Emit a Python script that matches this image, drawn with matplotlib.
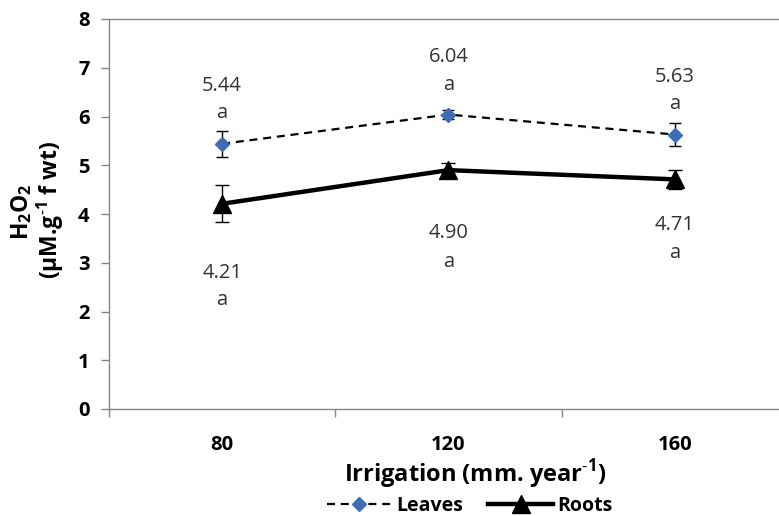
import matplotlib
matplotlib.use("Agg")
import matplotlib.pyplot as plt
from matplotlib.ticker import FixedLocator, NullFormatter
from matplotlib.lines import Line2D

plt.rcParams['font.family'] = ['Open Sans', 'DejaVu Sans']
plt.rcParams['mathtext.fontset'] = 'custom'
plt.rcParams['mathtext.rm'] = 'Open Sans'
plt.rcParams['mathtext.bf'] = 'Open Sans:bold'

categories = ["80", "120", "160"]
leaves = [5.44, 6.04, 5.63]
leaves_err = [0.27, 0.10, 0.24]
roots = [4.21, 4.90, 4.71]
roots_err = [0.38, 0.15, 0.19]
leaves_letters = ["a", "a", "a"]
roots_letters = ["a", "a", "a"]

fig = plt.figure(figsize=(7.79, 5.16), dpi=100)
ax = fig.add_axes([109/779, 107/516, 679/779, 390/516])

x = list(range(len(categories)))
grey = "#868686"
blue = "#3E6DB5"
dash = (0, (3.6, 2.6))

ax.errorbar(x, roots, yerr=roots_err, color="black", lw=3.2, marker="^", ms=13,
            capsize=5, elinewidth=1, ecolor="black", capthick=1, zorder=3)
ax.errorbar(x, leaves, yerr=leaves_err, color="black", lw=1.6, ls=dash, marker="D",
            ms=7.5, mfc=blue, mec=blue, capsize=4, elinewidth=1, ecolor="black",
            capthick=1, zorder=3)

# data labels (offsets in pixels from the point: value line, letter line)
lab_off_leaves = [(-58, -31), (-58, -30), (-58, -31)]
lab_off_roots = [(69, 96), (63, 92), (46, 74)]
tc = "#333333"
fs = 14.5
for i in x:
    o1, o2 = lab_off_leaves[i]
    ax.annotate(f"{leaves[i]:.2f}", (i, leaves[i]), xytext=(0, -o1*0.72), textcoords="offset points",
                ha="center", va="center", fontsize=fs, color=tc)
    ax.annotate(leaves_letters[i], (i, leaves[i]), xytext=(0, -o2*0.72), textcoords="offset points",
                ha="center", va="center", fontsize=fs, color=tc)
    o1, o2 = lab_off_roots[i]
    ax.annotate(f"{roots[i]:.2f}", (i, roots[i]), xytext=(0, -o1*0.72), textcoords="offset points",
                ha="center", va="center", fontsize=fs, color=tc)
    ax.annotate(roots_letters[i], (i, roots[i]), xytext=(0, -o2*0.72), textcoords="offset points",
                ha="center", va="center", fontsize=fs, color=tc)

ax.set_xlim(-0.5, 2.5)
ax.set_ylim(0, 8)
ax.set_yticks(range(0, 9))
ax.set_xticks(x)
ax.set_xticklabels(categories)
ax.xaxis.set_minor_locator(FixedLocator([-0.5, 0.5, 1.5]))
ax.xaxis.set_minor_formatter(NullFormatter())
ax.tick_params(axis="x", which="major", length=0, pad=19, labelsize=14.5)
ax.tick_params(axis="x", which="minor", length=6, color=grey, width=1)
ax.tick_params(axis="y", length=6, color=grey, width=1, pad=8, labelsize=14.5)
for lab in ax.get_xticklabels() + ax.get_yticklabels():
    lab.set_fontweight("bold")
for s in ax.spines.values():
    s.set_color(grey)
    s.set_linewidth(1)

fig.text(22/779, 1 - 212/516, r"H$_\mathbf{2}$O$_\mathbf{2}$", rotation=90, ha="center", va="center",
         fontsize=16.5, fontweight="bold")
fig.text(50/779, 1 - 210/516, r"(µM.g$^{\mathbf{\text{-}1}}$ f wt)", rotation=90, ha="center", va="center",
         fontsize=16.5, fontweight="bold")
fig.text(475/779, 1 - 474/516, r"Irrigation (mm. year$^{\mathbf{\text{-}1}}$)", ha="center", va="center",
         fontsize=17, fontweight="bold")

h_leaves = Line2D([], [], color="black", lw=1.6, ls=dash, marker="D", ms=7.5, mfc=blue, mec=blue)
h_roots = Line2D([], [], color="black", lw=3.2, marker="^", ms=13)
fig.legend([h_leaves, h_roots], ["Leaves", "Roots"], loc="center", bbox_to_anchor=(470/779, 1 - 506/516),
           ncol=2, frameon=False, handlelength=3.3, handletextpad=0.25, columnspacing=1.3,
           prop={"weight": "bold", "size": 14})

fig.savefig("out.png", dpi=100)
